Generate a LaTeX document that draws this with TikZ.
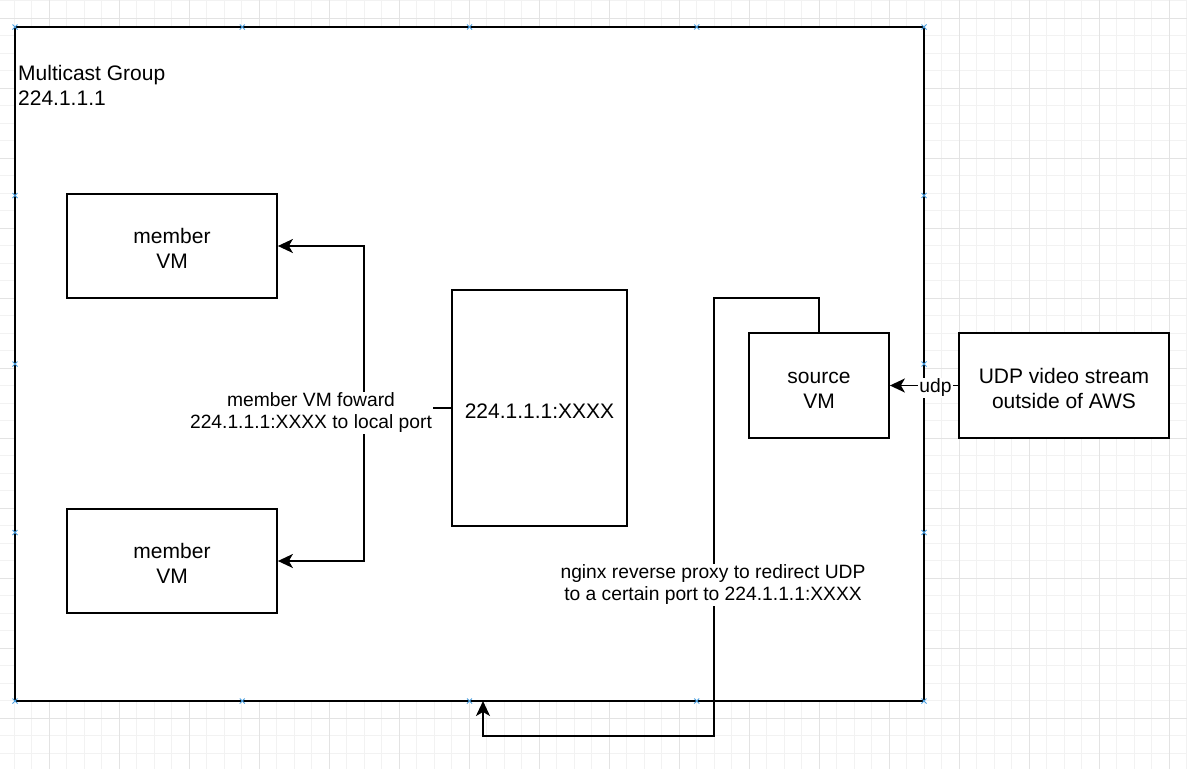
\documentclass[tikz,border=0pt]{standalone}
\usepackage{fontspec}
\setmainfont{Liberation Sans}
\usetikzlibrary{arrows.meta}
\definecolor{gridminor}{HTML}{F2F2F2}
\definecolor{gridmajor}{HTML}{E3E3E3}
\definecolor{handle}{HTML}{4A9FE0}
\newcommand\bxtop{\rule{0pt}{22pt}}
\newcommand\bxbot{\rule[-2pt]{0pt}{2pt}}
\begin{document}
\begin{tikzpicture}[x=1pt,y=-1pt,
  box/.style={draw, line width=1.75pt, fill=white, inner sep=0pt, align=center,
    font=\fontsize{21}{25}\selectfont},
  conn/.style={line width=1.75pt},
  arr/.style={conn, -{Stealth[length=15pt,width=14pt,inset=4pt]}},
  elabel/.style={fill=white, inner sep=1.5pt, align=center,
    font=\fontsize{19.25}{22}\selectfont},
  handlemark/.style={draw=handle, line width=0.9pt}]
\useasboundingbox (0,0) rectangle (1187,769);
\fill[white] (0,0) rectangle (1187,769);
% grid
\foreach \i in {0,...,67} \draw[gridminor, line width=1pt] ({14.3+17.5*\i},0) -- ({14.3+17.5*\i},769);
\foreach \j in {0,...,43} \draw[gridminor, line width=1pt] (0,{0.8+17.5*\j}) -- (1187,{0.8+17.5*\j});
\foreach \i in {0,...,16} \draw[gridmajor, line width=1pt] ({49.3+70*\i},0) -- ({49.3+70*\i},769);
\foreach \j in {0,...,10} \draw[gridmajor, line width=1pt] (0,{18.3+70*\j}) -- (1187,{18.3+70*\j});
% group
\node[draw, line width=1.75pt, fill=white, inner sep=0pt, minimum width=909pt, minimum height=674pt] (grp) at (469.5,364) {};
\node[anchor=north west, inner sep=0pt, align=left, font=\fontsize{21}{25}\selectfont] (grplabel) at (18,65) {Multicast Group\\224.1.1.1};
% boxes
\node[box, minimum width=210pt, minimum height=104pt] (m1) at (172,246) {\bxtop member\\VM\bxbot};
\node[box, minimum width=210pt, minimum height=104pt] (m2) at (172,561) {\bxtop member\\VM\bxbot};
\node[box, minimum width=175pt, minimum height=236pt] (mc) at (539.5,408) {\bxtop 224.1.1.1:XXXX\bxbot};
\node[box, minimum width=140pt, minimum height=105pt] (src) at (819,385.5) {\bxtop source\\VM\bxbot};
\node[box, minimum width=210pt, minimum height=105pt] (udp) at (1064,385.5) {\bxtop UDP video stream\\outside of AWS\bxbot};
% connectors
\coordinate (split) at (364,408);
\draw[arr] (mc.west) -- (split) |- (m1.east);
\draw[arr] (mc.west) -- (split) |- (m2.east);
\node[elabel] (fwdlabel) at (311,413) {member VM foward\\224.1.1.1:XXXX to local port};
\draw[arr] (udp.west) -- (src.east);
\node[elabel, inner sep=1pt] (udplabel) at (935.5,388) {udp};
\coordinate (n1) at (714,298);
\coordinate (n2) at (714,736);
\coordinate (n3) at (483,736);
\coordinate (gin) at (483,701);
\draw[arr] (src.north) |- (n1) -- (n2) -- (n3) -- (gin);
\node[elabel] (nginxlabel) at (713,585) {nginx reverse proxy to redirect UDP\\to a certain port to 224.1.1.1:XXXX};
% connection handles
\foreach \x in {15,242.25,469.5,696.75,924} {
  \draw[handlemark] (\x-2.5,24.5) -- (\x+2.5,29.5) (\x-2.5,29.5) -- (\x+2.5,24.5);
  \draw[handlemark] (\x-2.5,698.5) -- (\x+2.5,703.5) (\x-2.5,703.5) -- (\x+2.5,698.5);
}
\foreach \y in {195.5,364,532.5} {
  \draw[handlemark] (12.5,\y-2.5) -- (17.5,\y+2.5) (12.5,\y+2.5) -- (17.5,\y-2.5);
  \draw[handlemark] (921.5,\y-2.5) -- (926.5,\y+2.5) (921.5,\y+2.5) -- (926.5,\y-2.5);
}
\end{tikzpicture}
\end{document}
